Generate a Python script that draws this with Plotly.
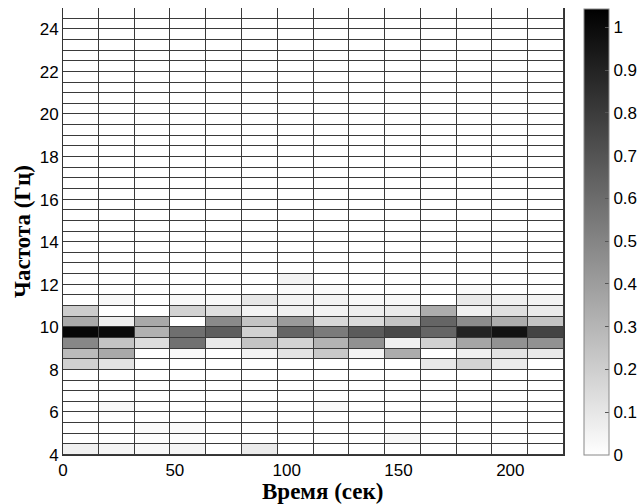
import plotly.graph_objects as go

# Time bin centres (s), 16-s windows
time_centers = [8, 24, 40, 56, 72, 88, 104, 120, 136, 152, 168, 184, 200, 216]
# Frequency bin centres (Hz), 0.5-Hz bins from 4 to 25 Hz
freq_centers = [4.25, 4.75, 5.25, 5.75, 6.25, 6.75, 7.25, 7.75, 8.25, 8.75,
                9.25, 9.75, 10.25, 10.75, 11.25, 11.75, 12.25, 12.75, 13.25, 13.75,
                14.25, 14.75, 15.25, 15.75, 16.25, 16.75, 17.25, 17.75, 18.25, 18.75,
                19.25, 19.75, 20.25, 20.75, 21.25, 21.75, 22.25, 22.75, 23.25, 23.75,
                24.25, 24.75]

# Normalised power per frequency row (one value per time bin)
f4_0 = [0.06, 0.04, 0.03, 0.04, 0, 0.08, 0, 0, 0, 0, 0, 0, 0, 0]
f4_5 = [0, 0, 0.01, 0.01, 0, 0, 0, 0, 0, 0.03, 0, 0, 0, 0]
f5_0 = [0, 0, 0.02, 0.02, 0, 0, 0, 0, 0, 0, 0, 0, 0, 0]
f6_0 = [0, 0.03, 0, 0, 0, 0, 0, 0.02, 0, 0, 0, 0, 0, 0]
f8_0 = [0.19, 0.11, 0, 0, 0, 0, 0, 0, 0, 0, 0.09, 0.18, 0.08, 0]
f8_5 = [0.28, 0.35, 0, 0.03, 0, 0.05, 0.11, 0.22, 0.05, 0.34, 0, 0.06, 0.11, 0.09]
f9_0 = [0.49, 0.24, 0.14, 0.58, 0.09, 0.24, 0.18, 0.31, 0.45, 0.06, 0.19, 0.37, 0.45, 0.45]
f9_5 = [1.02, 1.00, 0.32, 0.59, 0.66, 0.19, 0.63, 0.54, 0.67, 0.75, 0.63, 0.90, 0.97, 0.77]
f10_0 = [0.35, 0.07, 0.35, 0, 0.48, 0.24, 0.41, 0.16, 0.15, 0.24, 0.63, 0.47, 0.34, 0.24]
f10_5 = [0.21, 0, 0, 0.18, 0.13, 0.05, 0.06, 0.05, 0.07, 0.08, 0.34, 0.06, 0.13, 0.08]
f11_0 = [0, 0.03, 0, 0.03, 0.03, 0.10, 0.05, 0.05, 0.03, 0.03, 0, 0.09, 0.06, 0.05]
f11_5 = [0, 0, 0, 0, 0, 0, 0.02, 0.02, 0, 0, 0, 0.02, 0, 0]
f12_0 = [0, 0, 0, 0, 0, 0, 0.05, 0, 0, 0, 0, 0, 0, 0]

rows = {4.25: f4_0, 4.75: f4_5, 5.25: f5_0, 6.25: f6_0, 8.25: f8_0, 8.75: f8_5,
        9.25: f9_0, 9.75: f9_5, 10.25: f10_0, 10.75: f10_5, 11.25: f11_0,
        11.75: f11_5, 12.25: f12_0}
zero = [0] * len(time_centers)
z = [rows.get(f, zero) for f in freq_centers]

cb_ticks = [0, 0.1, 0.2, 0.3, 0.4, 0.5, 0.6, 0.7, 0.8, 0.9, 1]

tick_font = dict(family="Liberation Sans, Arial", size=17, color="black")
title_font = dict(family="Liberation Serif, Times New Roman", size=23, color="black", weight="bold")

fig = go.Figure(go.Heatmap(
    x=time_centers, y=freq_centers, z=z,
    colorscale=[[0, "white"], [1, "black"]],
    zmin=0, zmax=1.043,
    xgap=1, ygap=1,
    colorbar=dict(
        x=1.04, xanchor="left", xpad=0,
        y=0, yanchor="bottom", ypad=0, len=0.998, lenmode="fraction",
        thickness=25, outlinecolor="#888", outlinewidth=1,
        tickvals=cb_ticks, ticktext=[str(t) for t in cb_ticks],
        ticks="inside", ticklen=4, tickcolor="#555",
        tickfont=tick_font,
    ),
))

fig.update_layout(
    width=641, height=504,
    margin=dict(l=63, r=77, t=8, b=49, autoexpand=False),
    paper_bgcolor="white",
    plot_bgcolor="#3a3a3a",
    xaxis=dict(
        range=[0, 224], tickvals=[0, 50, 100, 150, 200], ticks="",
        showgrid=False, zeroline=False, showline=True, linecolor="#333", linewidth=1,
        tickfont=tick_font, automargin=False,
    ),
    yaxis=dict(
        range=[4, 25], tickvals=[4, 6, 8, 10, 12, 14, 16, 18, 20, 22, 24], ticks="",
        showgrid=False, zeroline=False, showline=True, mirror=True,
        linecolor="#333", linewidth=1,
        tickfont=tick_font, automargin=False,
        title=dict(text="Частота (Гц)", font=title_font, standoff=2),
    ),
    annotations=[dict(
        text="Время (сек)", font=title_font, showarrow=False,
        xref="paper", yref="paper", x=0.518, y=0,
        xanchor="center", yanchor="middle", yshift=-36,
    )],
)

fig.write_html("out.html", config={"displayModeBar": False},
               post_script="document.body.style.margin='0';document.body.style.overflow='hidden';")
